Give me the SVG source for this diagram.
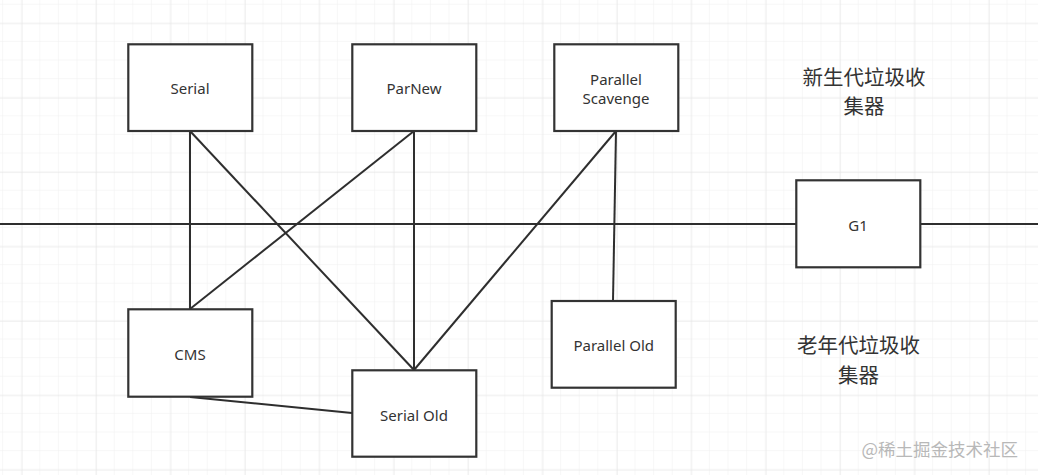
<svg xmlns="http://www.w3.org/2000/svg" width="1038" height="475" viewBox="0 0 1038 475">
<defs>
<pattern id="minor" x="3.1" y="4.7" width="18.6" height="18.6" patternUnits="userSpaceOnUse">
<path d="M18.6 0V18.6M0 18.6H18.6" fill="none" stroke="#f0f0f0" stroke-width="1"/>
</pattern>
<pattern id="major" x="21.7" y="23.3" width="74.4" height="74.4" patternUnits="userSpaceOnUse">
<path d="M0 0V74.4M0 0H74.4" fill="none" stroke="#e4e4e4" stroke-width="1"/>
</pattern>
</defs>
<style>
.box{fill:#fff;stroke:#333;stroke-width:2.2}
.ln{stroke:#2e2e2e;stroke-width:2;fill:none}
.t{font-family:"Noto Sans","Open Sans",sans-serif;font-size:15px;fill:#333;text-anchor:middle;dominant-baseline:central}
.cn{font-family:"Noto Sans CJK SC",sans-serif;font-size:20.5px;fill:#333;text-anchor:middle;dominant-baseline:central}
.wm{font-family:"Noto Sans CJK SC",sans-serif;font-size:17.5px;fill:#b8b8b8;dominant-baseline:central}
</style>
<rect width="1038" height="475" fill="#fff"/>
<rect width="1038" height="475" fill="url(#minor)"/>
<rect width="1038" height="475" fill="url(#major)"/>
<g id="connectors">
<line class="ln" x1="0" y1="224" x2="796" y2="224"/>
<line class="ln" x1="920" y1="224" x2="1038" y2="224"/>
<line class="ln" x1="190" y1="131" x2="190" y2="309"/>
<line class="ln" x1="190" y1="131" x2="414" y2="370"/>
<line class="ln" x1="414" y1="131" x2="190" y2="309"/>
<line class="ln" x1="414" y1="131" x2="414" y2="370"/>
<line class="ln" x1="616" y1="131" x2="414" y2="370"/>
<line class="ln" x1="616" y1="131" x2="613" y2="301"/>
<line class="ln" x1="190" y1="397" x2="352" y2="413"/>
</g>
<g id="serial"><rect class="box" x="128.3" y="44.3" width="124" height="86.7"/><text class="t" x="190" y="88">Serial</text></g>
<g id="parnew"><rect class="box" x="352.3" y="44.3" width="124" height="86.7"/><text class="t" x="414" y="88">ParNew</text></g>
<g id="parallel-scavenge"><rect class="box" x="554.3" y="44.3" width="124" height="86.7"/><text class="t" x="616" y="79">Parallel</text><text class="t" x="616" y="98">Scavenge</text></g>
<g id="g1"><rect class="box" x="796.3" y="180.3" width="124" height="87"/><text class="t" x="858" y="225">G1</text></g>
<g id="cms"><rect class="box" x="128.3" y="309.3" width="124" height="87.4"/><text class="t" x="190" y="354">CMS</text></g>
<g id="serial-old"><rect class="box" x="352.3" y="370.3" width="124" height="86.4"/><text class="t" x="414" y="415">Serial Old</text></g>
<g id="parallel-old"><rect class="box" x="551.7" y="301" width="124" height="86.7"/><text class="t" x="613.7" y="345">Parallel Old</text></g>
<g id="young-label"><text class="cn" x="864" y="75.5">新生代垃圾收</text><text class="cn" x="864" y="105">集器</text></g>
<g id="old-label"><text class="cn" x="858.5" y="344">老年代垃圾收</text><text class="cn" x="858.5" y="373.5">集器</text></g>
<g id="watermark"><text class="wm" x="861.5" y="448">@稀土掘金技术社区</text></g>
</svg>
